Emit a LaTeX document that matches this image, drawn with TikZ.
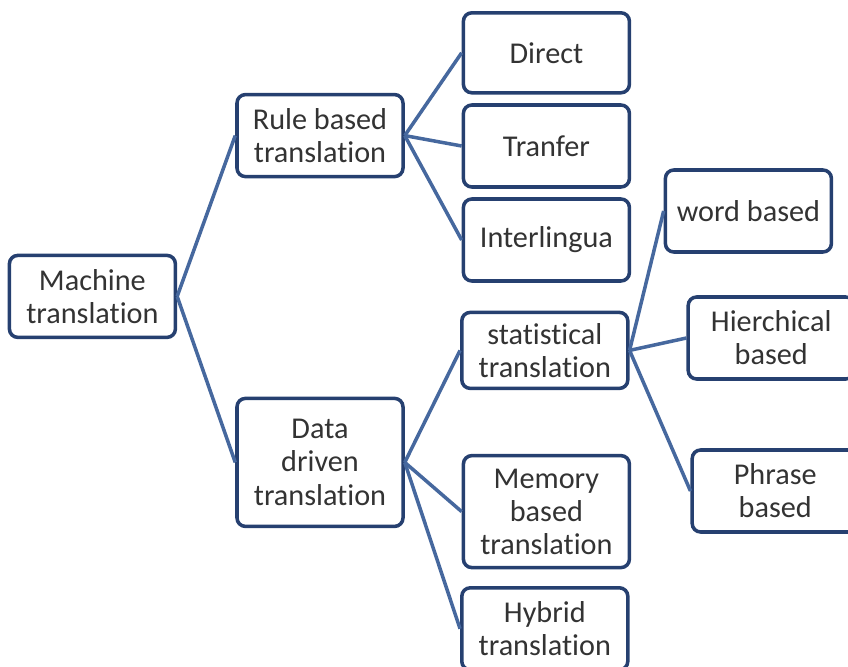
\documentclass[tikz,border=0pt]{standalone}
\usepackage{fontspec}
\setmainfont{Carlito}[Ligatures=NoCommon]
\definecolor{boxblue}{RGB}{38,64,112}
\definecolor{linkblue}{RGB}{70,104,158}

\begin{document}
\begin{tikzpicture}[
        X/.style={draw=boxblue, line width=2.5pt, rounded corners=6pt, fill=white,
            align=center, minimum width=4.15cm, minimum height=2.05cm, inner sep=1pt,
            font=\fontsize{21.5}{23.5}\selectfont, text=black!80},
        T/.style={X, minimum height=3.2cm},
        M/.style={X, minimum height=2.8cm},
        S/.style={X, minimum height=1.9cm},
        L/.style={draw=linkblue, line width=2.5pt}
    ]

    \def\xa{2.31}
    \def\xb{8.0}
    \def\xc{13.66}
    \def\xd{18.71}

    \useasboundingbox (0,0) rectangle (21.2,16.65);

    \node[X] (machine) at (\xa,9.24) {Machine\\translation};

    \node[X] (rule) at (\xb,13.26) {Rule based\\translation};
    \node[T] (data) at (\xb,5.09) {Data\\driven\\translation};

    \node[X, minimum height=2cm] (direct) at (\xc,15.33) {Direct};
    \node[X] (tranfer) at (\xc,13.0) {Tranfer};
    \node[X] (inter) at (\xc,10.65) {Interlingua};
    \node[S] (stat) at (13.62,7.89) {statistical\\translation};
    \node[M] (memory) at (\xc,3.86) {Memory\\based\\translation};
    \node[X] (hybrid) at (13.62,0.93) {Hybrid\\translation};

    \node[X] (word) at (\xd,11.375) {word based};
    \node[X] (hier) at (19.28,8.2) {Hierchical\\based};
    \node[X] (phrase) at (19.38,4.375) {Phrase\\based};

    \foreach \a/\b in {machine/rule, machine/data,
        rule/direct, rule/tranfer, rule/inter,
        data/stat, data/memory, data/hybrid,
        stat/word, stat/hier, stat/phrase}{
        \draw[L] (\a.east) -- (\b.west);
    }
\end{tikzpicture}
\end{document}
